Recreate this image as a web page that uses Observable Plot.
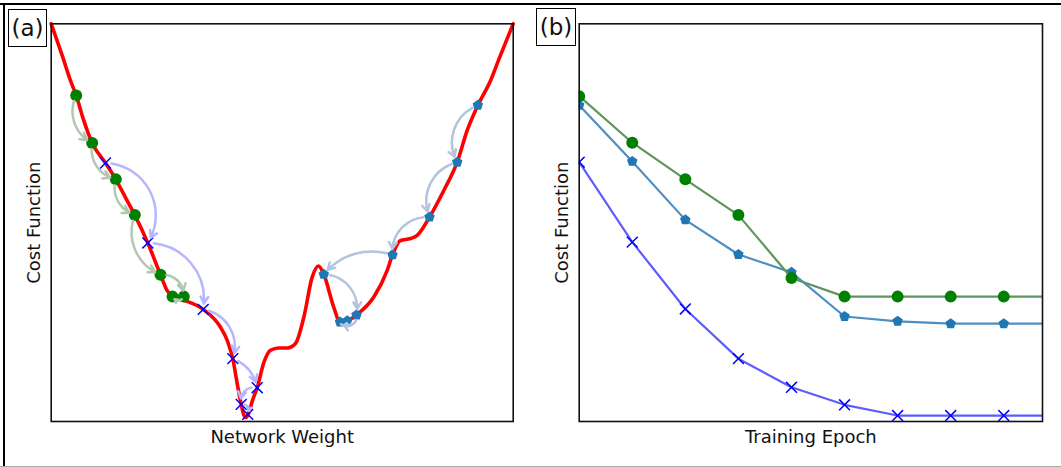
<!DOCTYPE html>
<html>
<head>
<meta charset="utf-8">
<script src="https://cdn.jsdelivr.net/npm/d3@7"></script>
<script src="https://cdn.jsdelivr.net/npm/@observablehq/plot@0.6"></script>
<style>
  body { margin: 0; background: #fff; font-family: "DejaVu Sans", sans-serif; }
  #fig { position: relative; width: 1061px; height: 467px; overflow: hidden; background: #fff; }
  .panel { position: absolute; top: 0; }
  .tag { position: absolute; border: 1.5px solid #000; box-sizing: border-box; font-size: 23px;
         display: flex; align-items: center; justify-content: center; background: #fff; color: #111; }
  .edge { position: absolute; }
</style>
</head>
<body>
<div id="fig">
  <div class="edge" style="left:0;top:2.5px;width:1061px;height:2px;background:#000"></div>
  <div class="edge" style="left:3.3px;top:2.5px;width:2.2px;height:464px;background:#000"></div>
  <div class="edge" style="left:0;top:466px;width:1061px;height:1px;background:#aaa"></div>
  <div id="left" class="panel" style="left:0"></div>
  <div id="right" class="panel" style="left:530px"></div>
  <div class="tag" style="left:8px;top:9px;width:39px;height:38px">(a)</div>
  <div class="tag" style="left:536px;top:8px;width:40px;height:38px">(b)</div>
</div>
<script>
// Cost landscape over the network weight (both in arbitrary units 0–100)
const curveW = [0, 2.45, 4.18, 5.41, 6.99, 8.87, 11.75, 13.98, 16.08, 18.10,
  20.91, 23.66, 25.11, 26.26, 28.70, 32.90, 36.65, 38.10, 39.31, 40.22,
  41.13, 41.65, 42.16, 42.71, 43.57, 44.59, 46.02, 47.47, 49.20, 51.15,
  52.88, 54.68, 56.49, 57.86, 59.00, 61.17, 62.51, 64.07, 66.08, 69.83,
  72.73, 73.87, 75.60, 77.77, 79.22, 81.88, 84.98, 87.88, 90.04, 92.34,
  95.09, 97.04, 100];
const curveC = [100, 91.8, 85.7, 82.0, 75.9, 70.0, 65.0, 60.9, 56.3, 51.9,
  44.9, 36.9, 32.9, 31.4, 30.5, 28.2, 23.7, 20.4, 15.8, 9.8,
  4.3, 1.8, 1.0, 2.0, 5.3, 8.5, 14.8, 17.9, 18.5, 18.5,
  19.6, 26.2, 36.3, 39.1, 37.0, 28.7, 25.0, 25.3, 26.8, 31.3,
  38.0, 41.9, 45.5, 46.0, 46.8, 51.4, 58.1, 65.2, 73.2, 79.5,
  85.7, 91.5, 100];

// Successive steps of the three optimisers (in the order they are visited)
const circW = [5.41, 8.87, 13.98, 18.10, 23.66, 28.70, 26.26];
const circC = [82.0, 70.0, 60.9, 51.9, 36.9, 31.4, 31.4];
const crossW = [11.75, 20.91, 32.90, 39.31, 44.59, 41.13, 42.55];
const crossC = [65.0, 44.9, 28.2, 15.8, 8.5, 4.3, 1.8];
const pentW = [92.34, 87.88, 81.88, 73.87, 59.00, 66.08, 62.51, 64.07];
const pentC = [79.5, 65.2, 51.4, 41.9, 37.0, 26.8, 25.0, 25.3];

// Cost per training epoch
const epochs = [0, 1, 2, 3, 4, 5, 6, 7, 8, 9];
const epochCirc = [81.8, 70.1, 60.9, 51.9, 36.1, 31.4, 31.4, 31.4, 31.4, 31.4];
const epochPent = [79.5, 65.4, 50.7, 42.0, 37.5, 26.4, 25.2, 24.6, 24.6, 24.6];
const epochCross = [65.2, 45.1, 28.3, 15.8, 8.6, 4.2, 1.5, 1.5, 1.5, 1.5];

// Arc bend (degrees) of each step arrow
const circBend = [-45, -45, -45, -45, 50, 70];
const crossBend = [60, 50, 50, 30, -60, 70];
const pentBend = [-50, -50, -50, -35, 50, 80, -90];

const GREEN = "#008000", BLUE = "#0000ff", STEEL = "#1f77b4";
const FONT = "DejaVu Sans";

// Five-sided marker
const pentagon = {
  draw(context, size) {
    const r = Math.sqrt(size / 2.3776);
    for (let i = 0; i < 5; ++i) {
      const a = -Math.PI / 2 + i * 2 * Math.PI / 5;
      const px = r * Math.cos(a), py = r * Math.sin(a);
      if (i) context.lineTo(px, py); else context.moveTo(px, py);
    }
    context.closePath();
  }
};

const pts = (xs, ys) => xs.map((x, i) => ({x, y: ys[i]}));

// Left panel geometry
const L = {width: 530, height: 467, ml: 50.7, mr: 17.3, mt: 23.3, mb: 46};
const pxW = (L.width - L.ml - L.mr) / 100, pxC = (L.height - L.mt - L.mb) / 100;

function stepArrows(ws, cs, bends, color) {
  return bends.map((b, i) => {
    const d = {x1: ws[i], y1: cs[i], x2: ws[i + 1], y2: cs[i + 1]};
    const chord = Math.hypot((d.x2 - d.x1) * pxW, (d.y2 - d.y1) * pxC);
    const inset = Math.min(6, chord * 0.3);
    return Plot.arrow([d], {
      x1: "x1", y1: "y1", x2: "x2", y2: "y2",
      bend: b, stroke: color, strokeWidth: 2.5,
      headLength: 4.6, headAngle: 60,
      insetStart: inset, insetEnd: inset
    });
  });
}

function yLabel() {
  return Plot.text(["Cost Function"], {text: d => d, frameAnchor: "left", rotate: -90,
    textAnchor: "middle", lineAnchor: "middle", dx: -16.5, fontSize: 18, fill: "#111"});
}
function xLabel(s) {
  return Plot.text([s], {text: d => d, frameAnchor: "bottom", textAnchor: "middle",
    lineAnchor: "middle", dy: 15.7, fontSize: 18, fill: "#111"});
}

const left = Plot.plot({
  width: L.width, height: L.height,
  marginLeft: L.ml, marginRight: L.mr, marginTop: L.mt, marginBottom: L.mb,
  style: {background: "none", fontFamily: FONT},
  x: {domain: [0, 100], axis: null},
  y: {domain: [0, 100], axis: null},
  marks: [
    Plot.line(pts(curveW, curveC), {x: "x", y: "y", stroke: "#ff0000", strokeWidth: 3.6, curve: "monotone-x"}),
    Plot.dot(pts(circW, circC), {x: "x", y: "y", r: 6, fill: GREEN, stroke: "none"}),
    Plot.dot(pts(crossW, crossC), {x: "x", y: "y", r: 5, symbol: "times", stroke: BLUE, strokeWidth: 1.5, fill: "none"}),
    Plot.dot(pts(pentW, pentC), {x: "x", y: "y", r: 4.8, symbol: pentagon, fill: STEEL, stroke: "none"}),
    ...stepArrows(circW, circC, circBend, "#b3c8b3"),
    ...stepArrows(crossW, crossC, crossBend, "#b6b6ff"),
    ...stepArrows(pentW, pentC, pentBend, "#b3c5de"),
    Plot.frame({stroke: "#111", strokeWidth: 1.6}),
    yLabel(),
    xLabel("Network Weight")
  ]
});
document.getElementById("left").append(left);

const right = Plot.plot({
  width: 531, height: 467,
  marginLeft: 48.7, marginRight: 19, marginTop: 23.3, marginBottom: 46,
  style: {background: "none", fontFamily: FONT},
  x: {domain: [0, 8.73], axis: null},
  y: {domain: [0, 100], axis: null},
  marks: [
    Plot.line(pts(epochs, epochCross), {x: "x", y: "y", stroke: "#5c5cff", strokeWidth: 2.2, clip: true}),
    Plot.dot(pts(epochs, epochCross), {x: "x", y: "y", r: 5, symbol: "times", stroke: BLUE, strokeWidth: 1.5, fill: "none", clip: true}),
    Plot.line(pts(epochs, epochPent), {x: "x", y: "y", stroke: "#4f8ec2", strokeWidth: 2.2, clip: true}),
    Plot.dot(pts(epochs, epochPent), {x: "x", y: "y", r: 4.8, symbol: pentagon, fill: STEEL, stroke: "none", clip: true}),
    Plot.line(pts(epochs, epochCirc), {x: "x", y: "y", stroke: "#5b975b", strokeWidth: 2.2, clip: true}),
    Plot.dot(pts(epochs, epochCirc), {x: "x", y: "y", r: 6, fill: GREEN, stroke: "none", clip: true}),
    Plot.frame({stroke: "#111", strokeWidth: 1.6}),
    yLabel(),
    xLabel("Training Epoch")
  ]
});
document.getElementById("right").append(right);
</script>
</body>
</html>
